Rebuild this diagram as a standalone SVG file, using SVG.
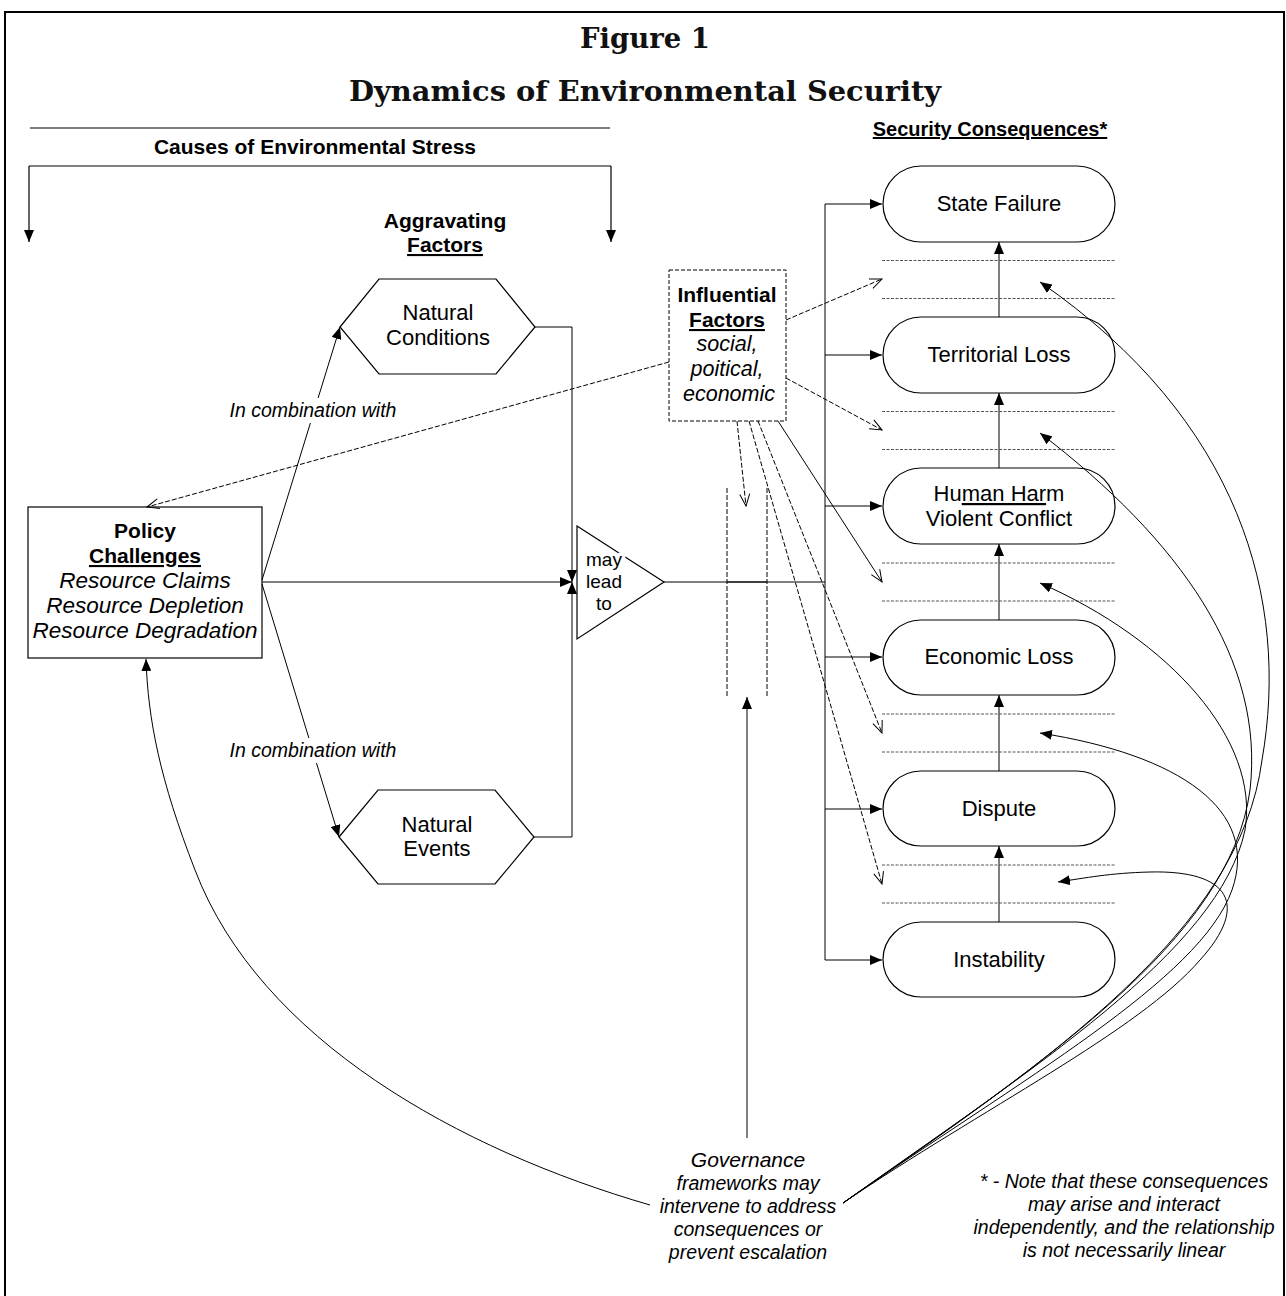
<svg xmlns="http://www.w3.org/2000/svg" width="1286" height="1296" viewBox="0 0 1286 1296">
<defs>
<style>
.t{font-family:"Liberation Sans",Arial,sans-serif;fill:#000}
.b{font-weight:bold}
.i{font-style:italic}
.u{text-decoration:underline}
.ttl{font-family:"DejaVu Serif","Liberation Serif",serif;font-weight:bold;fill:#111}
.shape{fill:#fff;stroke:#000;stroke-width:1.2}
.ln{fill:none;stroke:#000;stroke-width:1.2}
.thin{fill:none;stroke:#000;stroke-width:1}
.dsh{fill:none;stroke:#000;stroke-width:1;stroke-dasharray:5,2}
.gd{fill:none;stroke:#555;stroke-width:1;stroke-dasharray:3,1.5}
.halo{paint-order:stroke;stroke:#fff;stroke-width:7;stroke-linejoin:round}
</style>
<marker id="fa" viewBox="0 0 12 10" refX="12" refY="5" markerWidth="12" markerHeight="10" markerUnits="userSpaceOnUse" orient="auto"><path d="M0,0 L12,5 L0,10 z" fill="#000"/></marker>
<marker id="oa" viewBox="-1 -1 14 12" refX="12" refY="5" markerWidth="14" markerHeight="12" markerUnits="userSpaceOnUse" orient="auto"><path d="M0,0 L12,5 L0,10" fill="none" stroke="#000" stroke-width="1"/></marker>
</defs>
<rect x="0" y="0" width="1286" height="1296" fill="#fff"/>
<rect x="5" y="12" width="1279" height="1292" fill="none" stroke="#000" stroke-width="2"/>

<g id="title">
<text class="ttl" x="645" y="48" font-size="27" text-anchor="middle" textLength="130" lengthAdjust="spacingAndGlyphs">Figure 1</text>
<text class="ttl" x="645" y="101" font-size="27" text-anchor="middle" textLength="592" lengthAdjust="spacingAndGlyphs">Dynamics of Environmental Security</text>
</g>

<g id="headers">
<text class="t b" x="315" y="154" font-size="21" text-anchor="middle">Causes of Environmental Stress</text>
<text class="t b" x="445" y="228" font-size="21" text-anchor="middle">Aggravating</text>
<text class="t b u" x="445" y="252" font-size="21" text-anchor="middle">Factors</text>
<text class="t b u" x="990" y="136" font-size="20" text-anchor="middle">Security Consequences*</text>
</g>

<g id="policy">
<rect class="shape" x="28" y="507" width="234" height="151"/>
<text class="t b" x="145" y="538" font-size="21" text-anchor="middle">Policy</text>
<text class="t b u" x="145" y="563" font-size="21" text-anchor="middle">Challenges</text>
<text class="t i" x="145" y="588" font-size="22.5" text-anchor="middle">Resource Claims</text>
<text class="t i" x="145" y="613" font-size="22.5" text-anchor="middle">Resource Depletion</text>
<text class="t i" x="145" y="638" font-size="22.5" text-anchor="middle">Resource Degradation</text>
</g>

<g id="natural-conditions">
<polygon class="shape" points="340,327 379,279 496,279 535,327 496,374 379,374"/>
<text class="t" x="438" y="320" font-size="22" text-anchor="middle">Natural</text>
<text class="t" x="438" y="345" font-size="22" text-anchor="middle">Conditions</text>
</g>

<g id="natural-events">
<polygon class="shape" points="339,837 378,790 495,790 534,837 495,884 378,884"/>
<text class="t" x="437" y="832" font-size="22" text-anchor="middle">Natural</text>
<text class="t" x="437" y="856" font-size="22" text-anchor="middle">Events</text>
</g>

<g id="may-lead-to">
<polygon class="shape" points="577,526 664,582 577,639"/>
<text class="t halo" x="604" y="566" font-size="19" text-anchor="middle">may</text>
<text class="t halo" x="604" y="588" font-size="19" text-anchor="middle">lead</text>
<text class="t halo" x="604" y="610" font-size="19" text-anchor="middle">to</text>
</g>

<g id="influential-factors">
<rect x="669" y="270" width="117" height="151" fill="#fff" stroke="#000" stroke-width="1" stroke-dasharray="4,2"/>
<text class="t b" x="727" y="302" font-size="21" text-anchor="middle">Influential</text>
<text class="t b u" x="727" y="327" font-size="21" text-anchor="middle">Factors</text>
<text class="t i" x="727" y="351" font-size="21.5" text-anchor="middle">social,</text>
<text class="t i" x="727" y="376" font-size="21.5" text-anchor="middle">poitical,</text>
<text class="t i" x="729" y="401" font-size="21.5" text-anchor="middle">economic</text>
</g>

<g id="state-failure">
<rect class="shape" x="883" y="166" width="232" height="76" rx="38" ry="38"/>
<text class="t" x="999" y="211" font-size="22" text-anchor="middle">State Failure</text>
</g>
<g id="territorial-loss">
<rect class="shape" x="883" y="317" width="232" height="76" rx="38" ry="38"/>
<text class="t" x="999" y="362" font-size="22" text-anchor="middle">Territorial Loss</text>
</g>
<g id="human-harm">
<rect class="shape" x="883" y="468" width="232" height="76" rx="38" ry="38"/>
<text class="t" x="999" y="501" font-size="22" text-anchor="middle">Hu<tspan class="u">man Har</tspan>m</text>
<text class="t" x="999" y="526" font-size="22" text-anchor="middle">Violent Conflict</text>
</g>
<g id="economic-loss">
<rect class="shape" x="883" y="620" width="232" height="75" rx="38" ry="38"/>
<text class="t" x="999" y="664" font-size="22" text-anchor="middle">Economic Loss</text>
</g>
<g id="dispute">
<rect class="shape" x="883" y="771" width="232" height="75" rx="38" ry="38"/>
<text class="t" x="999" y="816" font-size="22" text-anchor="middle">Dispute</text>
</g>
<g id="instability">
<rect class="shape" x="883" y="922" width="232" height="75" rx="38" ry="38"/>
<text class="t" x="999" y="967" font-size="22" text-anchor="middle">Instability</text>
</g>

<g id="connectors">
<path class="ln" d="M30,128 H610"/>
<path class="ln" d="M29,166 H611"/>
<path class="ln" d="M29,166 V242" marker-end="url(#fa)"/>
<path class="ln" d="M611,166 V242" marker-end="url(#fa)"/>
<path class="thin" d="M262,580 L340,327" marker-end="url(#fa)"/>
<path class="thin" d="M262,584 L339,837" marker-end="url(#fa)"/>
<path class="thin" d="M262,582 H572" marker-end="url(#fa)"/>
<path class="thin" d="M535,327 H572 V582" marker-end="url(#fa)"/>
<path class="thin" d="M534,837 H572 V582" marker-end="url(#fa)"/>
<path class="thin" d="M664,582 H825"/>
<path class="ln" d="M727,582 H767"/>
<path class="thin" d="M825,204 V960"/>
<path class="thin" d="M825,204 H882" marker-end="url(#fa)"/>
<path class="thin" d="M825,355 H882" marker-end="url(#fa)"/>
<path class="thin" d="M825,506 H882" marker-end="url(#fa)"/>
<path class="thin" d="M825,657 H882" marker-end="url(#fa)"/>
<path class="thin" d="M825,809 H882" marker-end="url(#fa)"/>
<path class="thin" d="M825,960 H882" marker-end="url(#fa)"/>
<path class="thin" d="M999,317 V242" marker-end="url(#fa)"/>
<path class="thin" d="M999,468 V393" marker-end="url(#fa)"/>
<path class="thin" d="M999,620 V544" marker-end="url(#fa)"/>
<path class="thin" d="M999,771 V695" marker-end="url(#fa)"/>
<path class="thin" d="M999,922 V846" marker-end="url(#fa)"/>
<path class="gd" d="M882,260.5 H1116 M882,298.5 H1116 M882,411.5 H1116 M882,449.5 H1116 M882,563 H1116 M882,601 H1116 M882,714 H1116 M882,752 H1116 M882,865 H1116 M882,903 H1116"/>
<path class="dsh" d="M727,488 V696 M767,488 V696" stroke-dasharray="4,2"/>
<path class="thin" d="M747,1138 V697" marker-end="url(#fa)"/>
<path class="dsh" d="M669,362 L147,507" marker-end="url(#oa)"/>
<path class="dsh" d="M786,320 L882,279" marker-end="url(#oa)"/>
<path class="dsh" d="M786,378 L882,430" marker-end="url(#oa)"/>
<path class="dsh" d="M737,421 L746,506" marker-end="url(#oa)"/>
<path class="thin" d="M778,421 L882,582" marker-end="url(#oa)"/>
<path class="dsh" d="M758,421 L882,733" stroke-dasharray="8,1.5" marker-end="url(#oa)"/>
<path class="dsh" d="M749,421 L882,884" stroke-dasharray="8,1.5" marker-end="url(#oa)"/>
<path class="thin" d="M843,1203 C1050,1060 1240,930 1262,760 C1290,600 1240,420 1040,282" marker-end="url(#fa)"/>
<path class="thin" d="M843,1203 C1040,1065 1230,940 1250,790 C1265,660 1180,540 1040,433" marker-end="url(#fa)"/>
<path class="thin" d="M843,1203 C1030,1070 1220,950 1245,830 C1260,740 1170,640 1040,583" marker-end="url(#fa)"/>
<path class="thin" d="M843,1203 C1020,1080 1200,980 1232,890 C1260,810 1180,755 1040,733" marker-end="url(#fa)"/>
<path class="thin" d="M843,1203 C980,1110 1140,1030 1200,960 C1250,905 1230,870 1150,872 C1110,873 1085,878 1058,882" marker-end="url(#fa)"/>
<path class="thin" d="M650,1205 C460,1150 260,1040 195,870 C160,780 148,720 146,659" marker-end="url(#fa)"/>
</g>

<g id="labels">
<rect x="226" y="398" width="174" height="25" fill="#fff"/>
<text class="t i" x="313" y="417" font-size="19.5" text-anchor="middle">In combination with</text>
<rect x="226" y="738" width="174" height="25" fill="#fff"/>
<text class="t i" x="313" y="757" font-size="19.5" text-anchor="middle">In combination with</text>
</g>

<g id="governance">
<text class="t i" x="748" y="1167" font-size="21" text-anchor="middle">Governance</text>
<text class="t i" x="748" y="1190" font-size="19.5" text-anchor="middle">frameworks may</text>
<text class="t i" x="748" y="1213" font-size="19.5" text-anchor="middle">intervene to address</text>
<text class="t i" x="748" y="1236" font-size="19.5" text-anchor="middle">consequences or</text>
<text class="t i" x="748" y="1259" font-size="19.5" text-anchor="middle">prevent escalation</text>
</g>

<g id="note">
<text class="t i" x="1124" y="1188" font-size="19.5" text-anchor="middle">* - Note that these consequences</text>
<text class="t i" x="1124" y="1211" font-size="19.5" text-anchor="middle">may arise and interact</text>
<text class="t i" x="1124" y="1234" font-size="19.5" text-anchor="middle">independently, and the relationship</text>
<text class="t i" x="1124" y="1257" font-size="19.5" text-anchor="middle">is not necessarily linear</text>
</g>
</svg>
